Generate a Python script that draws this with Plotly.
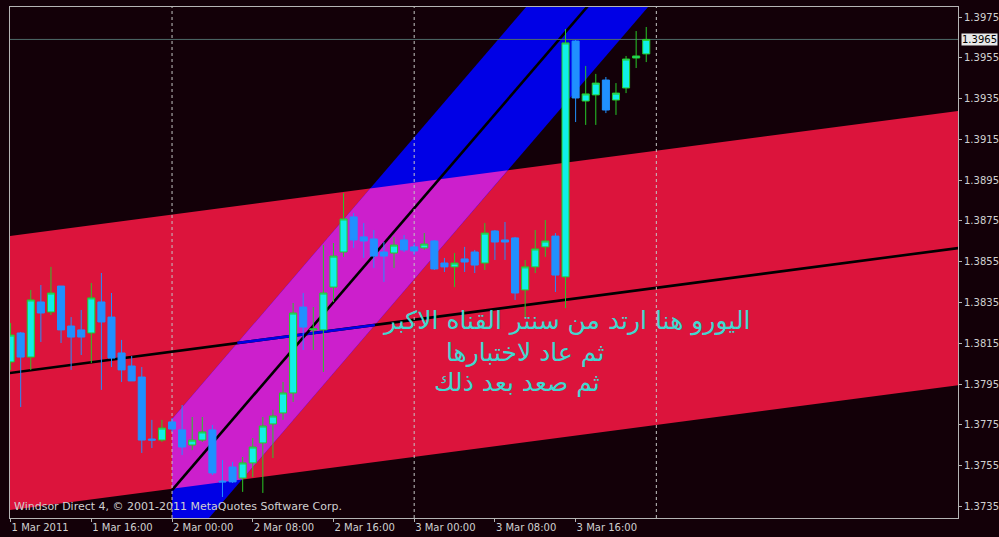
import plotly.graph_objects as go
import pandas as pd

# ---------------- data (EURUSD H1, 1-3 Mar 2011) ----------------
start_time = "2011-03-01 08:00"
opens = [1.38059, 1.38201, 1.38083, 1.38353, 1.38304, 1.38431, 1.38235, 1.38216,
         1.38201, 1.38353, 1.38279, 1.38103, 1.38039, 1.37985, 1.37681, 1.37676,
         1.37765, 1.37726, 1.37652, 1.37676, 1.37726, 1.37475, 1.37544, 1.37490,
         1.37564, 1.37662, 1.37755, 1.37809, 1.37907, 1.38328, 1.38216, 1.38216,
         1.38426, 1.38598, 1.38770, 1.38672, 1.38662, 1.38598, 1.38593, 1.38657,
         1.38623, 1.38618, 1.38652, 1.38544, 1.38525, 1.38564, 1.38598, 1.38544,
         1.38701, 1.38657, 1.38667, 1.38412, 1.38525, 1.38623, 1.38676, 1.38476,
         1.39632, 1.39338, 1.39368, 1.39441, 1.39343, 1.39402, 1.39549, 1.39569]
highs = [1.38250, 1.38206, 1.38412, 1.38436, 1.38525, 1.38431, 1.38279, 1.38314,
         1.38446, 1.38495, 1.38397, 1.38167, 1.38088, 1.38034, 1.37775, 1.37775,
         1.37784, 1.37848, 1.37789, 1.37789, 1.37750, 1.37578, 1.37569, 1.37593,
         1.37686, 1.37789, 1.37824, 1.37961, 1.38348, 1.38397, 1.38328, 1.38632,
         1.38642, 1.38887, 1.38789, 1.38740, 1.38706, 1.38647, 1.38672, 1.38681,
         1.38642, 1.38691, 1.38657, 1.38569, 1.38593, 1.38623, 1.38608, 1.38740,
         1.38706, 1.38745, 1.38672, 1.38559, 1.38706, 1.38755, 1.38691, 1.39691,
         1.39637, 1.39510, 1.39471, 1.39456, 1.39426, 1.39559, 1.39681, 1.39701]
lows = [1.38020, 1.37838, 1.38020, 1.38157, 1.38289, 1.38152, 1.38020, 1.38093,
        1.38054, 1.37922, 1.38034, 1.37961, 1.37966, 1.37613, 1.37637, 1.37667,
        1.37716, 1.37603, 1.37627, 1.37667, 1.37505, 1.37397, 1.37466, 1.37422,
        1.37495, 1.37417, 1.37588, 1.37775, 1.37863, 1.38118, 1.38118, 1.38010,
        1.38353, 1.38574, 1.38618, 1.38569, 1.38520, 1.38451, 1.38520, 1.38598,
        1.38583, 1.38608, 1.38510, 1.38500, 1.38426, 1.38500, 1.38495, 1.38510,
        1.38559, 1.38559, 1.38363, 1.38275, 1.38495, 1.38574, 1.38402, 1.38323,
        1.39235, 1.39221, 1.39221, 1.39279, 1.39270, 1.39377, 1.39500, 1.39529]
closes = [1.38191, 1.38083, 1.38363, 1.38299, 1.38397, 1.38216, 1.38181, 1.38181,
          1.38373, 1.38255, 1.38078, 1.38020, 1.37966, 1.37676, 1.37676, 1.37735,
          1.37730, 1.37642, 1.37676, 1.37716, 1.37515, 1.37471, 1.37471, 1.37564,
          1.37642, 1.37745, 1.37794, 1.37907, 1.38299, 1.38230, 1.38221, 1.38397,
          1.38578, 1.38760, 1.38657, 1.38652, 1.38578, 1.38578, 1.38632, 1.38608,
          1.38603, 1.38637, 1.38515, 1.38525, 1.38544, 1.38549, 1.38534, 1.38691,
          1.38647, 1.38647, 1.38397, 1.38525, 1.38613, 1.38652, 1.38485, 1.39623,
          1.39353, 1.39373, 1.39426, 1.39294, 1.39377, 1.39544, 1.39559, 1.39640]

tick_bars = [0, 8, 16, 24, 32, 40, 48, 56]
tick_labels = ["1 Mar 2011", "1 Mar 16:00", "2 Mar 00:00", "2 Mar 08:00",
               "2 Mar 16:00", "3 Mar 00:00", "3 Mar 08:00", "3 Mar 16:00"]
price_ticks = [1.3735, 1.3755, 1.3775, 1.3795, 1.3815, 1.3835, 1.3855,
               1.3875, 1.3895, 1.3915, 1.3935, 1.3955, 1.3975]
separator_bars = [16, 40, 64]
bid_price = 1.3964
bid_label = "1.3965"

# regression channels (price at start bar, slope per bar, half width)
red_mid_start = 1.38005
red_slope = 0.0000652
red_half = 0.00672
blue_start_bar = 16
blue_mid_start = 1.37431
blue_slope = 0.0005757
blue_half = 0.00348

copyright_text = "Windsor Direct 4, © 2001-2011 MetaQuotes Software Corp."
arabic_lines = ["اليورو هنا ارتد من سنتر القناه الاكبر",
                "ثم عاد لاختبارها",
                "ثم صعد بعد ذلك"]
arabic_bar = [55.0, 51.0, 50.2]
arabic_price = [1.38258, 1.38105, 1.37958]

# ---------------- styling ----------------
BG = "#130008"
RED = "#DC143C"
BLUE = "#0000E6"
MAGENTA = "#CC1FCC"
BULL_BODY = "#10F0E8"
BULL_LINE = "#28C828"
BEAR = "#2090FF"
AXIS = "#B4B4B4"
TEXT = "#D0D0D0"
ARABIC = "#40D8D0"

n = len(opens)
bars = list(range(n))
times = pd.date_range(start_time, periods=n, freq="h")

x_range = [-0.06, 93.9]
y_range = [1.37294, 1.39799]
x_far = 97
x_left = -3


def red_mid(i):
    return red_mid_start + red_slope * i


def blue_mid(i):
    return blue_mid_start + blue_slope * (i - blue_start_bar)


red_poly = [(x_left, red_mid(x_left) + red_half), (x_far, red_mid(x_far) + red_half),
            (x_far, red_mid(x_far) - red_half), (x_left, red_mid(x_left) - red_half)]
blue_poly = [(blue_start_bar, blue_mid(blue_start_bar) + blue_half),
             (x_far, blue_mid(x_far) + blue_half),
             (x_far, blue_mid(x_far) - blue_half),
             (blue_start_bar, blue_mid(blue_start_bar) - blue_half)]


def area(poly):
    s = 0
    for k in range(len(poly)):
        x1, y1 = poly[k]
        x2, y2 = poly[(k + 1) % len(poly)]
        s += x1 * y2 - x2 * y1
    return s / 2


def clip(subject, clipper):
    if area(clipper) < 0:
        clipper = clipper[::-1]

    def inside(p, a, b):
        return (b[0] - a[0]) * (p[1] - a[1]) - (b[1] - a[1]) * (p[0] - a[0]) >= 0

    def inter(p, q, a, b):
        x1, y1 = p; x2, y2 = q; x3, y3 = a; x4, y4 = b
        den = (x1 - x2) * (y3 - y4) - (y1 - y2) * (x3 - x4)
        t = ((x1 - x3) * (y3 - y4) - (y1 - y3) * (x3 - x4)) / den
        return (x1 + t * (x2 - x1), y1 + t * (y2 - y1))

    out = subject
    for k in range(len(clipper)):
        a, b = clipper[k], clipper[(k + 1) % len(clipper)]
        inp, out = out, []
        if not inp:
            break
        s = inp[-1]
        for e in inp:
            if inside(e, a, b):
                if not inside(s, a, b):
                    out.append(inter(s, e, a, b))
                out.append(e)
            elif inside(s, a, b):
                out.append(inter(s, e, a, b))
            s = e
    return out


overlap = clip(blue_poly, red_poly)


def poly_shape(poly, color):
    path = "M " + " L ".join(f"{x},{y}" for x, y in poly) + " Z"
    return dict(type="path", path=path, xref="x", yref="y", fillcolor=color,
                line=dict(width=0), layer="below")


def line_shape(x0, y0, x1, y1, color, width, dash="solid"):
    return dict(type="line", x0=x0, y0=y0, x1=x1, y1=y1, xref="x", yref="y",
                line=dict(color=color, width=width, dash=dash), layer="below")


shapes = [poly_shape(red_poly, RED), poly_shape(blue_poly, BLUE), poly_shape(overlap, MAGENTA)]

# red channel centre line (black, blue where it crosses the blue channel)
shapes.append(line_shape(x_left, red_mid(x_left), x_far, red_mid(x_far), "#000000", 2.6))
d0 = red_mid_start - blue_mid(0)
ds = red_slope - blue_slope
seg = sorted([(blue_half - d0) / ds, (-blue_half - d0) / ds])
seg = [max(seg[0], blue_start_bar), seg[1]]
shapes.append(line_shape(seg[0], red_mid(seg[0]), seg[1], red_mid(seg[1]), BLUE, 2.6))
# blue channel centre line
shapes.append(line_shape(blue_start_bar, blue_mid(blue_start_bar), x_far, blue_mid(x_far),
                         "#000000", 2.6))
# period separators
for b in separator_bars:
    shapes.append(line_shape(b, y_range[0], b, y_range[1], "#C4C4C4", 1, "dot"))
# bid line
shapes.append(line_shape(x_left, bid_price, x_far, bid_price, "#4E6A6A", 1))

fig = go.Figure()
fig.add_trace(go.Candlestick(
    x=bars, open=opens, high=highs, low=lows, close=closes,
    increasing=dict(line=dict(color=BULL_LINE, width=1), fillcolor=BULL_BODY),
    decreasing=dict(line=dict(color=BEAR, width=1), fillcolor=BEAR),
    whiskerwidth=0, showlegend=False, hoverinfo="skip"))

annotations = [
    dict(xref="paper", yref="paper", x=2 / 948, y=12 / 511, text=copyright_text,
         showarrow=False, xanchor="left", yanchor="middle",
         font=dict(family="DejaVu Sans", size=11, color=TEXT)),
    dict(xref="paper", yref="y", x=1, xshift=3, y=bid_price, text=bid_label,
         showarrow=False, xanchor="left", yanchor="middle", bgcolor="#E8E8E8",
         font=dict(family="DejaVu Sans", size=10, color="#000000"), borderpad=0),
]
for t, xb, yp in zip(arabic_lines, arabic_bar, arabic_price):
    annotations.append(dict(x=xb, y=yp, text=t, showarrow=False, xanchor="center",
                            yanchor="middle",
                            font=dict(family="DejaVu Sans", size=25, color=ARABIC)))

fig.update_layout(
    width=999, height=537,
    margin=dict(l=10, r=41, t=7, b=19),
    paper_bgcolor=BG, plot_bgcolor=BG,
    showlegend=False,
    annotations=annotations,
    shapes=shapes,
    boxgap=0.3, boxgroupgap=0.0,
    xaxis=dict(range=x_range, tickvals=tick_bars, ticktext=tick_labels,
               ticklabelposition="outside right", ticks="outside", ticklen=3,
               tickcolor=AXIS, showgrid=False, zeroline=False, showline=True,
               linecolor=AXIS, linewidth=1, mirror=True, automargin=False,
               rangeslider=dict(visible=False),
               tickfont=dict(family="DejaVu Sans", size=10, color=TEXT)),
    yaxis=dict(range=y_range, side="right", tickvals=price_ticks,
               ticktext=[f"{p:.4f}" for p in price_ticks], ticks="outside", ticklen=3,
               tickcolor=AXIS, showgrid=False, zeroline=False, showline=True,
               linecolor=AXIS, linewidth=1, mirror=True, automargin=False,
               tickfont=dict(family="DejaVu Sans", size=10, color=TEXT)),
)

fig.write_html("out.html",
               config={"displayModeBar": False, "staticPlot": True},
               post_script="document.body.style.margin='0';"
                           "document.body.style.overflow='hidden';"
                           "document.body.style.background='" + BG + "';")
